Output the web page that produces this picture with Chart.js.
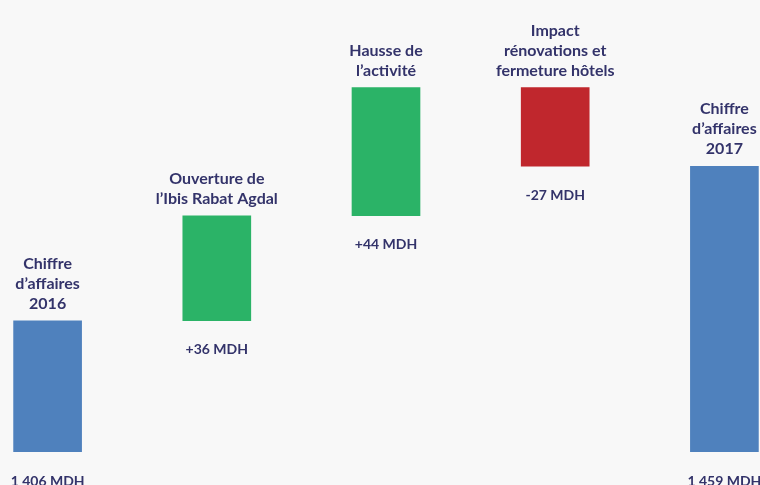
<!DOCTYPE html>
<html>
<head>
<meta charset="utf-8">
<script src="https://cdn.jsdelivr.net/npm/chart.js@4"></script>
<style>
  html, body { margin: 0; padding: 0; width: 760px; height: 485px; overflow: hidden; background: #f8f8f8; }
  #wrap { position: absolute; left: -37px; top: 0; width: 846px; height: 485px; }
</style>
</head>
<body>
<div id="wrap"><canvas id="c"></canvas></div>
<script>
// ---- data ----
const categories = [
  ["Chiffre", "d\u2019affaires", "2016"],
  ["Ouverture de", "l\u2019Ibis Rabat Agdal"],
  ["Hausse de", "l\u2019activit\u00e9"],
  ["Impact", "r\u00e9novations et", "fermeture h\u00f4tels"],
  ["Chiffre", "d\u2019affaires", "2017"]
];
const start2016 = 1406;               // MDH
const variations = [36, 44, -27];     // MDH
const total2017 = 1459;               // MDH
const valueLabels = ["1 406 MDH", "+36 MDH", "+44 MDH", "-27 MDH", "1 459 MDH"];

// ---- build waterfall series ----
const barData = [start2016];
let running = start2016;
variations.forEach(v => {
  const next = running + v;
  barData.push([Math.min(running, next), Math.max(running, next)]);
  running = next;
});
barData.push(total2017);

const BLUE = '#4f81bd', GREEN = '#2bb367', RED = '#c0272d';
const colors = [BLUE].concat(variations.map(v => v >= 0 ? GREEN : RED), [BLUE]);
const TEXT = '#33336a';
const TITLE_FONT = 'bold 16px Lato, "Open Sans", sans-serif';
const VALUE_FONT = 'bold 14px Lato, "Open Sans", sans-serif';

const labelPlugin = {
  id: 'wfLabels',
  afterDatasetsDraw(chart) {
    const ctx = chart.ctx;
    const area = chart.chartArea;
    const meta = chart.getDatasetMeta(0);
    ctx.save();
    ctx.fillStyle = TEXT;
    ctx.textAlign = 'center';
    ctx.textBaseline = 'middle';
    meta.data.forEach((bar, i) => {
      const p = bar.getProps(['x', 'y', 'base'], true);
      const top = Math.max(area.top, Math.min(p.y, p.base));
      const bottom = Math.min(area.bottom, Math.max(p.y, p.base));
      const lines = categories[i];
      const lh = 20;
      ctx.font = TITLE_FONT;
      lines.forEach((ln, j) => {
        ctx.fillText(ln, p.x, top - 17 - (lines.length - 1 - j) * lh);
      });
      ctx.font = VALUE_FONT;
      ctx.fillText(valueLabels[i], p.x, bottom + 29);
    });
    ctx.restore();
  }
};

new Chart(document.getElementById('c'), {
  type: 'bar',
  data: {
    labels: categories,
    datasets: [{
      data: barData,
      backgroundColor: colors,
      borderWidth: 0,
      barThickness: 68
    }]
  },
  options: {
    responsive: true,
    maintainAspectRatio: false,
    animation: false,
    layout: { padding: { top: 0, bottom: 33, left: 0, right: 0 } },
    plugins: { legend: { display: false }, tooltip: { enabled: false } },
    scales: {
      x: { display: false },
      y: { display: false, min: 1361, max: 1516 }
    }
  },
  plugins: [labelPlugin]
});
</script>
</body>
</html>
